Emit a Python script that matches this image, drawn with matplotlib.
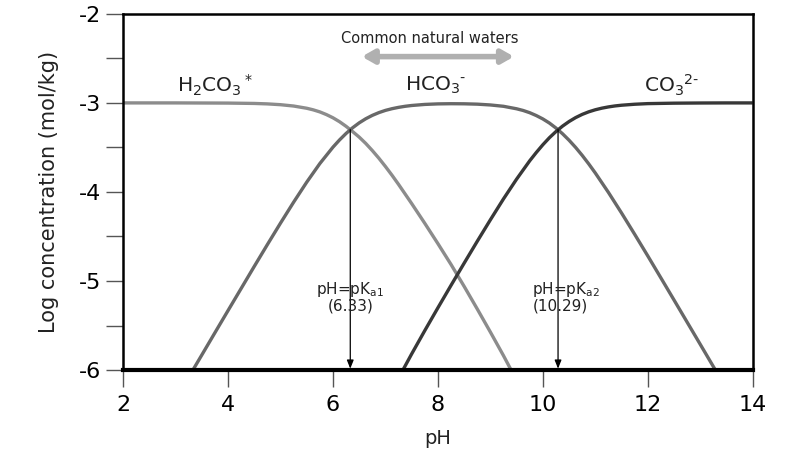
import matplotlib
matplotlib.use('Agg')
import matplotlib.pyplot as plt

plt.rcParams['axes.unicode_minus'] = False

# values (log concentration, mol/kg)
ph_h2co3 = [2, 2.5, 3, 3.5, 4, 4.5, 4.75, 5, 5.25, 5.5, 5.625, 5.75, 5.875, 6, 6.125,
            6.25, 6.375, 6.5, 6.625, 6.75, 6.875, 7, 7.125, 7.25, 7.5, 7.75, 8, 8.25,
            8.5, 8.75, 9, 9.25, 9.5, 9.75]
h2co3 = [-3.000, -3.000, -3.000, -3.001, -3.002, -3.006, -3.011, -3.020, -3.035, -3.060,
         -3.078, -3.101, -3.131, -3.167, -3.211, -3.263, -3.322, -3.384, -3.455, -3.535,
         -3.621, -3.714, -3.812, -3.915, -4.130, -4.352, -4.580, -4.814, -5.060, -5.314,
         -5.573, -5.838, -6.116, -6.410]

ph_hco3 = [3, 3.25, 3.5, 3.75, 4, 4.25, 4.5, 4.75, 5, 5.25, 5.5, 5.75, 6, 6.125, 6.25,
           6.375, 6.5, 6.625, 6.75, 6.875, 7, 7.125, 7.25, 7.375, 7.5, 7.75, 8, 8.25,
           8.5, 8.75, 9, 9.25, 9.5, 9.625, 9.75, 9.875, 10, 10.125, 10.25, 10.375, 10.5,
           10.625, 10.75, 10.875, 11, 11.25, 11.5, 11.75, 12, 12.25, 12.5, 12.75, 13,
           13.25, 13.5]
hco3 = [-6.330, -6.080, -5.831, -5.581, -5.332, -5.084, -4.836, -4.591, -4.350, -4.115,
        -3.890, -3.681, -3.497, -3.416, -3.343, -3.279, -3.224, -3.178, -3.140, -3.109,
        -3.084, -3.065, -3.050, -3.038, -3.029, -3.017, -3.011, -3.009, -3.010, -3.014,
        -3.023, -3.038, -3.066, -3.085, -3.110, -3.142, -3.180, -3.226, -3.282, -3.346,
        -3.419, -3.500, -3.589, -3.685, -3.787, -4.005, -4.236, -4.475, -4.718, -4.965,
        -5.213, -5.462, -5.711, -5.961, -6.210]

ph_co3 = [7, 7.25, 7.5, 7.75, 8, 8.25, 8.5, 8.75, 9, 9.25, 9.5, 9.75, 9.875, 10, 10.125,
          10.25, 10.375, 10.5, 10.625, 10.75, 10.875, 11, 11.125, 11.25, 11.375, 11.5,
          11.75, 12, 12.5, 13, 13.5, 14]
co3 = [-6.374, -6.090, -5.819, -5.557, -5.301, -5.049, -4.800, -4.554, -4.313, -4.078,
       -3.856, -3.650, -3.557, -3.470, -3.391, -3.322, -3.261, -3.209, -3.165, -3.129,
       -3.100, -3.077, -3.059, -3.045, -3.034, -3.026, -3.015, -3.008, -3.003, -3.001,
       -3.000, -3.000]

pka1, pka2 = 6.33, 10.29
pka_level = -3.30

fig = plt.figure(figsize=(7.89, 4.62), dpi=100)
ax = fig.add_axes([0.156, 0.199, 0.798, 0.771])

ax.plot(ph_h2co3, h2co3, color='#8c8c8c', lw=2.4, solid_capstyle='butt')
ax.plot(ph_hco3, hco3, color='#686868', lw=2.4, solid_capstyle='butt')
ax.plot(ph_co3, co3, color='#383838', lw=2.4, solid_capstyle='butt')

ax.set_xlim(2, 14)
ax.set_ylim(-6, -2)
ax.set_xticks(range(2, 15, 2))
ax.set_yticks([-6, -5, -4, -3, -2])
ax.set_yticks([-5.5, -4.5, -3.5, -2.5], minor=True)
ax.tick_params(axis='both', which='both', direction='out', length=12, width=1,
               color='#555555', labelsize=16, top=False, right=False)
ax.tick_params(axis='y', pad=4)
ax.tick_params(axis='x', pad=6)

for side in ['top', 'right', 'left']:
    ax.spines[side].set_linewidth(1.8)
ax.spines['bottom'].set_linewidth(3)

ax.set_xlabel('pH', fontsize=14, labelpad=10, color='#222222')
ax.set_ylabel('Log concentration (mol/kg)', fontsize=15, labelpad=14, color='#222222')

# species labels
ax.text(3.75, -2.8, r'H$_2$CO$_3$$^*$', fontsize=14.5, ha='center', va='center', color='#222222')
ax.text(7.95, -2.8, r'HCO$_3$$^{\text{-}}$', fontsize=14.5, ha='center', va='center', color='#222222')
ax.text(12.45, -2.8, r'CO$_3$$^{\text{2-}}$', fontsize=14.5, ha='center', va='center', color='#222222')

# common natural waters
ax.text(7.85, -2.28, 'Common natural waters', fontsize=10.5, ha='center', va='center',
        color='#222222')
ax.annotate('', xy=(9.45, -2.48), xytext=(6.55, -2.48),
            arrowprops=dict(arrowstyle='<|-|>,head_length=0.7,head_width=0.4',
                            lw=4, color='#b0b0b0', shrinkA=0, shrinkB=0))

# pKa markers
for pk in (pka1, pka2):
    ax.annotate('', xy=(pk, -6.0), xytext=(pk, pka_level),
                arrowprops=dict(arrowstyle='-|>,head_length=0.5,head_width=0.2',
                                lw=0.9, color='black', shrinkA=0, shrinkB=1))

ax.text(pka1, -5.1, r'pH=pK$_{\rm a1}$', fontsize=11, ha='center', va='center', color='#222222')
ax.text(pka1, -5.28, '(6.33)', fontsize=11, ha='center', va='center', color='#222222')
ax.text(9.8, -5.1, r'pH=pK$_{\rm a2}$', fontsize=11, ha='left', va='center', color='#222222')
ax.text(9.8, -5.28, '(10.29)', fontsize=11, ha='left', va='center', color='#222222')

fig.savefig('out.png', dpi=100)
